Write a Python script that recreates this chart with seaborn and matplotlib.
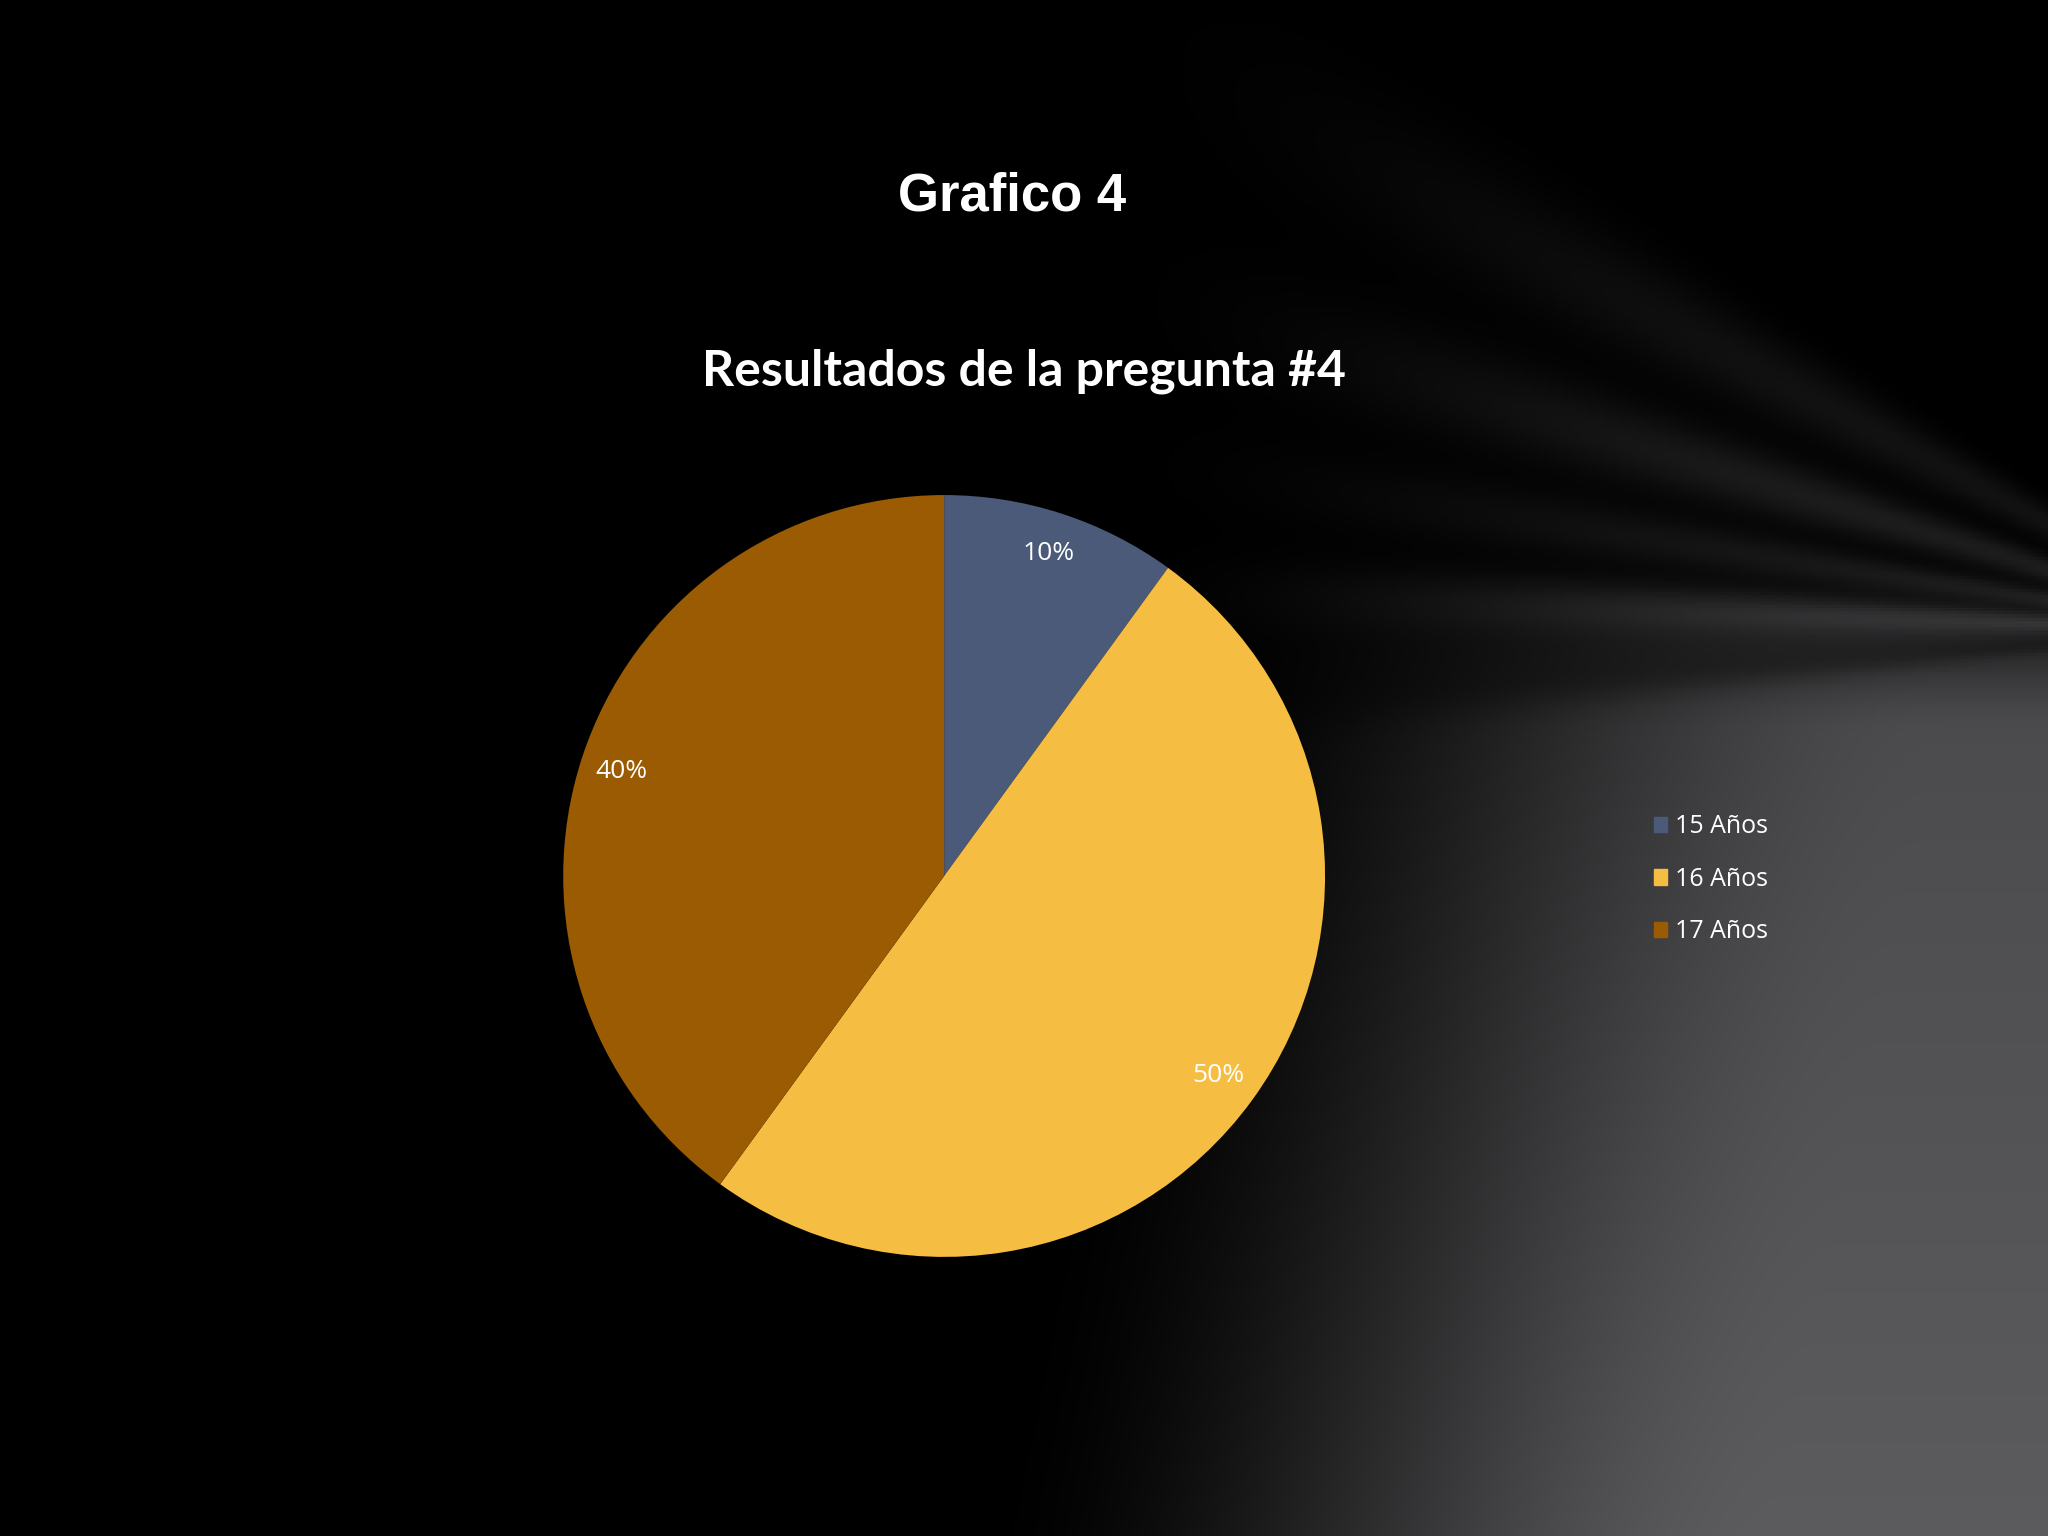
import matplotlib
matplotlib.use("Agg")
import matplotlib.pyplot as plt
import matplotlib.patches as mpatches
import seaborn as sns
import numpy as np

# data
edades = ["15 Años", "16 Años", "17 Años"]
porcentajes = [10, 50, 40]
colores = ["#4b5a78", "#f6bd43", "#9a5b02"]

sns.set_theme(style="dark")
plt.rcParams["font.family"] = ["Lato", "DejaVu Sans"]

fig = plt.figure(figsize=(20.48, 15.36), dpi=100)
fig.patch.set_facecolor("black")


def smooth(v):
    v = np.clip(v, 0, 1)
    return v * v * (3 - 2 * v)


# dark slide background: grey "floor" on the lower right, soft light streaks above it
bg = fig.add_axes([0, 0, 1, 1])
X, Y = np.meshgrid(np.linspace(0, 1, 640), np.linspace(0, 1, 480))
floor = smooth((Y - 0.36) / 0.12) * smooth((X - (0.56 - 0.15 * (Y - 0.4))) / 0.40)
g = floor * (0.24 + 0.12 * Y)
slope = (0.41 - Y) / (1.10 - X)
g -= 0.07 * np.exp(-((slope + 0.10) / 0.05) ** 2) * floor
above = smooth((0.47 - Y) / 0.10) * smooth((X - 0.52) / 0.40)
for s, a, w in [(0.04, 0.16, 0.06), (0.20, 0.09, 0.06), (0.40, 0.11, 0.09),
                (0.70, 0.07, 0.12)]:
    g += a * above * np.exp(-((slope - s) / w) ** 2)
bg.imshow(np.dstack([g, g, g * 1.03]).clip(0, 1), aspect="auto", extent=[0, 1, 1, 0])
bg.set_axis_off()

ax = fig.add_axes([0.461 - 0.186, 0.4297 - 0.248, 0.372, 0.496])
ax.set_facecolor("none")
wedges, texts, autotexts = ax.pie(
    porcentajes, colors=sns.color_palette(colores), startangle=90, counterclock=False,
    autopct="%d%%", pctdistance=0.89, wedgeprops={"linewidth": 0},
    textprops={"color": "white", "fontsize": 19, "family": ["Open Sans", "DejaVu Sans"]},
)
ax.set_xlim(-1, 1)
ax.set_ylim(-1, 1)
ax.set_aspect("equal")

fig.text(0.494, 0.872, "Grafico 4", ha="center", va="center", color="white",
         fontsize=38, fontweight="bold", family=["Liberation Sans", "DejaVu Sans"])
fig.text(0.5, 0.758, "Resultados de la pregunta #4", ha="center", va="center",
         color="white", fontsize=36, fontweight="bold")

handles = [mpatches.Patch(color=c, label=l) for c, l in zip(colores, edades)]
leg = fig.legend(handles=handles, loc="center left", bbox_to_anchor=(0.8025, 0.4275),
                 frameon=False, handlelength=0.55, handleheight=0.55,
                 handletextpad=0.3, labelspacing=1.1, borderaxespad=0,
                 prop={"family": ["Open Sans", "DejaVu Sans"], "size": 18})
for t in leg.get_texts():
    t.set_color("white")

fig.savefig("out.png", dpi=100, facecolor="black")
